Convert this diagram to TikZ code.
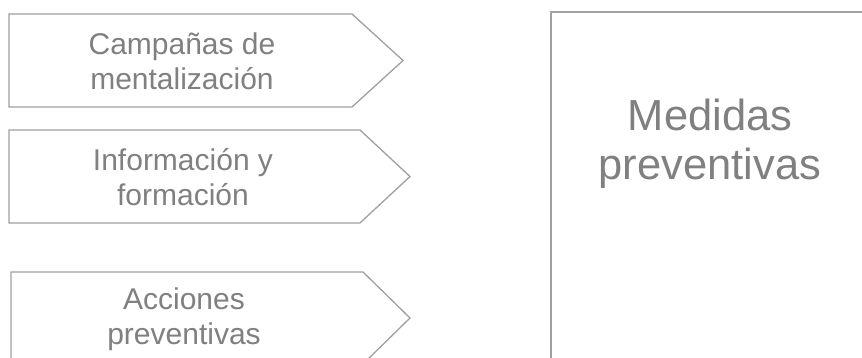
\documentclass[tikz,border=0pt]{standalone}
\usepackage{fontspec}
\setmainfont{Liberation Sans}
\definecolor{edge}{HTML}{A0A0A0}
\definecolor{ink}{HTML}{808080}
\begin{document}
\begin{tikzpicture}[x=1pt,y=1pt,
  outline/.style={draw=edge, line width=1.3pt, line join=miter},
  smalltext/.style={text=ink, align=center, font=\fontsize{30}{35}\selectfont, inner sep=0pt},
  bigtext/.style={text=ink, align=center, font=\fontsize{43.5}{49}\selectfont, inner sep=0pt}]
\useasboundingbox (0,0) rectangle (862,358);
\clip (0,0) rectangle (862,358);
\fill[white] (0,0) rectangle (862,358);

% three chevron boxes on the left
\draw[outline] (9,344) -- (352,344) -- (403,297.5) -- (352,251) -- (9,251) -- cycle;
\draw[outline] (9,228) -- (360,228) -- (410,181.5) -- (360,135) -- (9,135) -- cycle;
\draw[outline] (11,86) -- (363,86) -- (410,40) -- (363,-6) -- (11,-6) -- cycle;

\node[smalltext] (campanas) at (182,297) {Campañas de\\mentalización};
\node[smalltext] (informacion) at (183,181) {Información y\\formación};
\node[smalltext] (acciones) at (184,39) {Acciones\\preventivas};

% large box on the right
\draw[outline] (551,-20) -- (551,346) -- (900,346);
\node[bigtext] (medidas) at (710,214) {Medidas\\preventivas};
\end{tikzpicture}
\end{document}
